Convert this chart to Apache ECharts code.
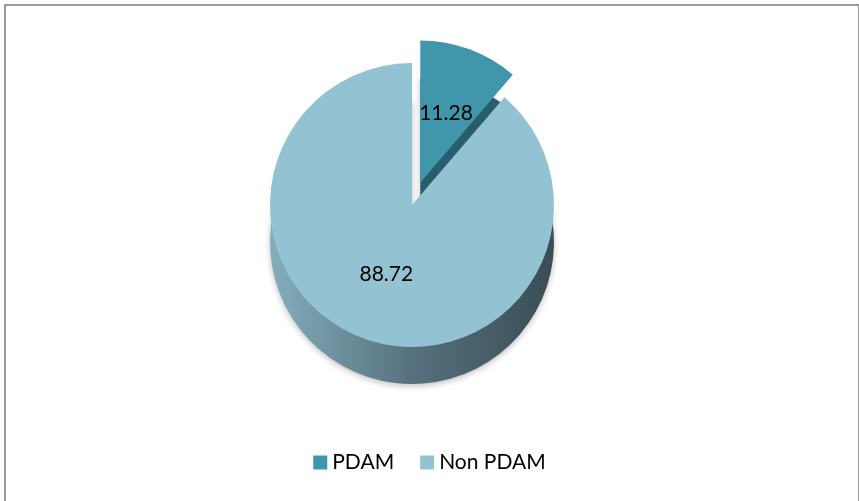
<!DOCTYPE html>
<html>
<head>
<meta charset="utf-8">
<script src="https://cdn.jsdelivr.net/npm/echarts@6/dist/echarts.min.js"></script>
<style>
  html, body {margin: 0; padding: 0; background: #fff;}
  #frame {position: absolute; left: 4px; top: 4px; width: 856px; height: 510px; border: 2px solid #9a9a9a; box-sizing: border-box;}
  #chart {position: absolute; left: 0; top: 0; width: 859px; height: 501px;}
</style>
</head>
<body>
<div id="frame"></div>
<div id="chart"></div>
<script>
// DATA
const categories = ["PDAM", "Non PDAM"];
const values = [11.28, 88.72];

// top face + side colours
const top_colors = ["#4096ab", "#93c2d3"];
const side_colors = [
  "#285e6c",
  {type: 'linear', x: 0, y: 0, x2: 1, y2: 0, colorStops: [
    {offset: 0, color: '#84aebd'}, {offset: 0.5, color: '#56717d'}, {offset: 1, color: '#3a4d55'}]}
];

function pieData(colors){
  return categories.map((name, i) => ({
    name: name,
    value: values[i],
    selected: i === 0,
    itemStyle: {color: colors[i]}
  }));
}

const chart = echarts.init(document.getElementById('chart'), null, {renderer: 'canvas'});

const font = "Lato, 'Open Sans', sans-serif";

chart.setOption({
  animation: false,
  legend: {
    bottom: 23, left: 'center',
    itemWidth: 14, itemHeight: 14, itemGap: 26,
    icon: 'rect',
    selectedMode: false,
    textStyle: {fontFamily: font, fontSize: 21, color: '#000'},
    data: categories
  },
  series: [
    {
      // top face
      type: 'pie',
      z: 3,
      center: [412, 205],
      radius: 142,
      startAngle: 90,
      clockwise: true,
      selectedMode: 'single',
      selectedOffset: 24,
      silent: true,
      label: {
        show: true, position: 'inner', fontFamily: font, fontSize: 21, color: '#000',
        formatter: (p) => p.value.toFixed(2)
      },
      labelLine: {show: false},
      data: pieData(top_colors)
    },
    {
      // side / depth
      type: 'pie',
      z: 1,
      center: [412, 242],
      radius: 142,
      startAngle: 90,
      clockwise: true,
      selectedMode: 'single',
      selectedOffset: 24,
      silent: true,
      label: {show: false},
      labelLine: {show: false},
      itemStyle: {shadowBlur: 6, shadowColor: 'rgba(0,0,0,0.25)', shadowOffsetY: 2},
      data: pieData(side_colors)
    }
  ]
});
</script>
</body>
</html>
